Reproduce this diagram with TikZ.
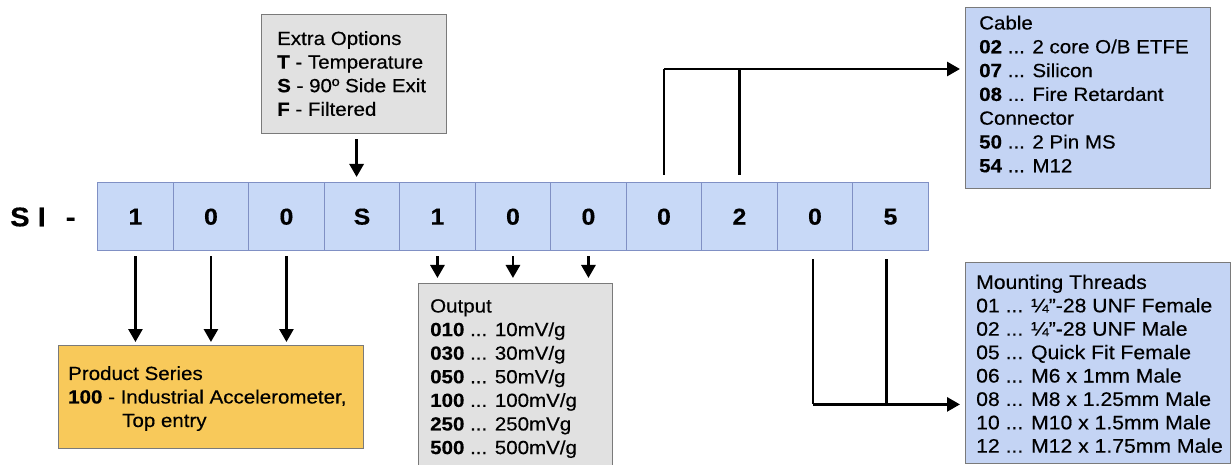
\documentclass[tikz,border=0pt]{standalone}
\usepackage{fontspec}
\setmainfont{Liberation Sans}[FakeStretch=1.08,FakeBold=0.4]
\usetikzlibrary{arrows.meta}
\definecolor{stripfill}{HTML}{C8D9F7}
\definecolor{stripline}{HTML}{8090C4}
\definecolor{bluefill}{HTML}{C4D4F4}
\definecolor{greyfill}{HTML}{E1E1E1}
\definecolor{goldfill}{HTML}{F8C95A}
\definecolor{boxline}{HTML}{7A7A7A}
\tikzset{
  digitbox/.style={draw=stripline, line width=1.4pt, fill=stripfill, minimum width=75.5pt, minimum height=68pt, inner sep=0pt, anchor=north west, font=\fontsize{23}{26}\selectfont\bfseries},
  panel/.style={draw=boxline, line width=1.2pt, inner sep=0pt, anchor=north west},
  paneltext/.style={anchor=north west, inner sep=0pt, align=left, font=\fontsize{19}{23.6}\selectfont},
  arr/.style={line width=2.8pt, -{Triangle[width=14pt,length=13pt]}},
  conn/.style={line width=2.8pt, line join=miter},
}
\begin{document}
\begin{tikzpicture}[x=1pt,y=-1pt]
\useasboundingbox (0,0) rectangle (1232,465);
\clip (0,0) rectangle (1232,465);
\fill[white] (0,0) rectangle (1232,465);

% prefix
\node[anchor=west, inner sep=0pt, font=\fontsize{27}{30}\selectfont\bfseries] (prefix) at (10,217) {S\hspace{8pt}I\hspace{20pt}-};

% strip of code digits
\foreach \d [count=\i] in {1,0,0,S,1,0,0,0,2,0,5} {
  \node[digitbox] (d\i) at ({97+(\i-1)*75.5},182) {\d};
}

% panels
\node[panel, fill=greyfill, minimum width=185pt, minimum height=119pt] (extra) at (261,14) {};
\node[paneltext] (extratext) at (277,31) {Extra Options\\\textbf{T} - Temperature\\\textbf{S} - 90º Side Exit\\\textbf{F} - Filtered};

\node[panel, fill=bluefill, minimum width=245pt, minimum height=181pt] (cable) at (965,7) {};
\node[paneltext, font=\fontsize{19}{23.8}\selectfont] (cabletext) at (979,15.5) {Cable\\\textbf{02} ... 2 core O/B ETFE\\\textbf{07} ... Silicon\\\textbf{08} ... Fire Retardant\\Connector\\\textbf{50} ... 2 Pin MS\\\textbf{54} ... M12};

\node[panel, fill=goldfill, minimum width=305pt, minimum height=103pt] (product) at (58,345) {};
\node[paneltext, font=\fontsize{19}{23.5}\selectfont] (producttext) at (68,366) {Product Series\\\textbf{100} - Industrial Accelerometer,\\\hspace*{54pt}Top entry};

\node[panel, fill=greyfill, minimum width=194pt, minimum height=190pt] (output) at (418,283) {};
\node[paneltext] (outputtext) at (430,299) {Output\\\textbf{010} ... 10mV/g\\\textbf{030} ... 30mV/g\\\textbf{050} ... 50mV/g\\\textbf{100} ... 100mV/g\\\textbf{250} ... 250mVg\\\textbf{500} ... 500mV/g};

\node[panel, fill=bluefill, minimum width=265pt, minimum height=201pt] (mount) at (965,262) {};
\node[paneltext, font=\fontsize{19.6}{23.4}\selectfont] (mounttext) at (976,274.5) {Mounting Threads\\01 ... ¼"-28 UNF Female\\02 ... ¼"-28 UNF Male\\05 ... Quick Fit Female\\06 ... M6 x 1mm Male\\08 ... M8 x 1.25mm Male\\10 ... M10 x 1.5mm Male\\12 ... M12 x 1.75mm Male};

% connectors
\coordinate (extrastart) at ([xshift=2.5pt,yshift=-5pt]extra.south);
\coordinate (d4top) at ([yshift=5pt]d4.north);
\draw[arr] (extrastart) -- (extrastart |- d4top);

\coordinate (prodtop) at ([yshift=3pt]product.north);
\foreach \i in {1,2,3} {
  \draw[arr] ([yshift=-5pt]d\i.south) -- (d\i.south |- prodtop);
}
\coordinate (outtop) at ([yshift=5pt]output.north);
\foreach \i in {5,6,7} {
  \draw[arr] ([yshift=-5pt]d\i.south) -- (d\i.south |- outtop);
}

\coordinate (cabcorner) at ([yshift=113pt]d8.north);
\coordinate (cabtip) at ([xshift=-5pt]cable.west);
\draw[conn] ([yshift=7pt]d8.north) -- (cabcorner);
\draw[arr] (cabcorner) -- (cabcorner -| cabtip);
\draw[conn] ([yshift=7pt]d9.north) -- (cabcorner -| d9.north);

\coordinate (mntcorner) at ([xshift=-2pt,yshift=-153pt]d10.south);
\coordinate (mnttip) at ([xshift=-5pt]mount.west);
\coordinate (d11drop) at ([xshift=-4pt,yshift=-8pt]d11.south);
\draw[conn] ([xshift=-2pt,yshift=-8pt]d10.south) -- (mntcorner);
\draw[arr] (mntcorner) -- (mntcorner -| mnttip);
\draw[conn] (d11drop) -- (mntcorner -| d11drop);
\end{tikzpicture}
\end{document}
